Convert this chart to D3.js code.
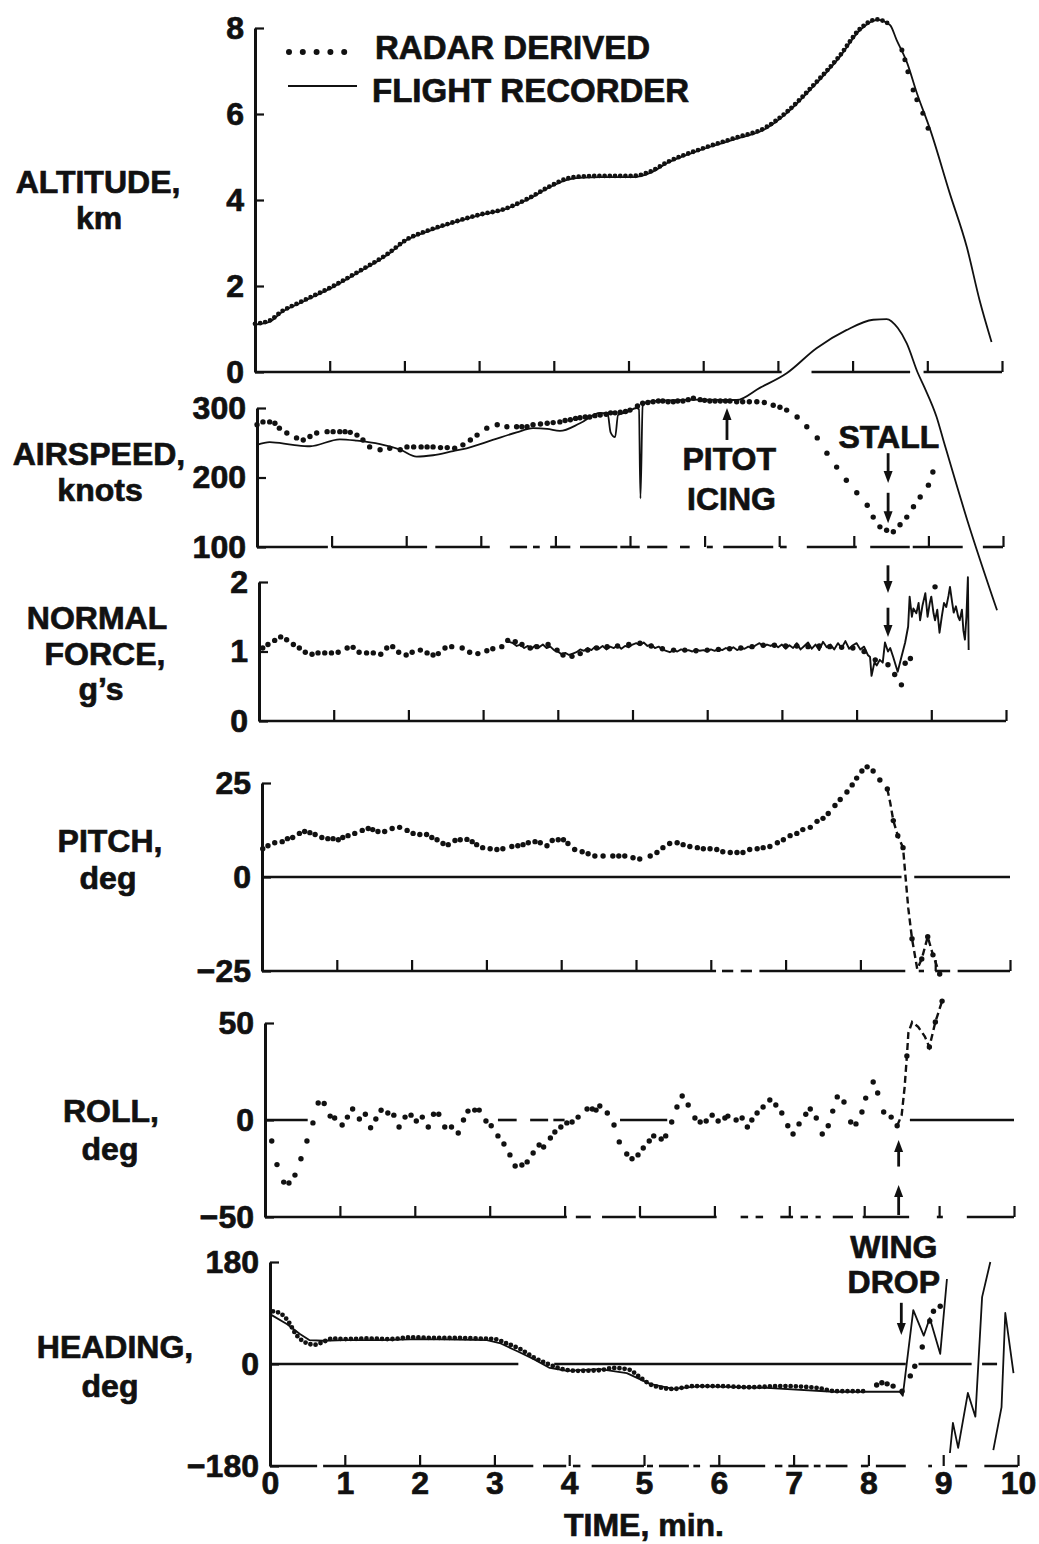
<!DOCTYPE html>
<html>
<head>
<meta charset="utf-8">
<script src="https://cdn.jsdelivr.net/npm/d3@7"></script>
<style>
  body { margin: 0; background: #fff; }
  svg { display: block; }
  text { font-family: "Liberation Sans", Arial, Helvetica, sans-serif; font-weight: bold; fill: #111; stroke: #111; stroke-width: 0.7px; }
</style>
</head>
<body>
<svg id="chart" width="1039" height="1544"></svg>
<script>
// ---- data (time in minutes) ----
const timeTicks = [0, 1, 2, 3, 4, 5, 6, 7, 8, 9, 10];
const altitudeTicks = [0, 2, 4, 6, 8];
const airspeedTicks = [100, 200, 300];
const normalTicks = [0, 1, 2];
const pitchTicks = [-25, 0, 25];
const rollTicks = [-50, 0, 50];
const headingTicks = [-180, 0, 180];

// altitude, km
const altitudeRecorder = [[0,1.1],[0.2,1.17],[0.35,1.38],[0.6,1.6],[1.05,1.98],[1.4,2.33],[1.77,2.72],[2.03,3.07],[2.3,3.26],[2.65,3.47],[3.01,3.65],[3.32,3.77],[3.64,4.0],[3.95,4.3],[4.18,4.47],[4.4,4.52],[4.62,4.53],[5.06,4.53],[5.29,4.63],[5.52,4.86],[5.96,5.16],[6.4,5.4],[6.85,5.67],[7.12,6.02],[7.47,6.63],[7.83,7.33],[8.1,7.95],[8.33,8.19],[8.5,8.07],[8.59,7.72],[8.73,7.19],[8.86,6.49],[9.04,5.63],[9.3,4.16],[9.53,2.9],[9.7,1.67],[9.86,0.7]];
const altitudeRadar = [[0,1.12],[0.2,1.2],[0.35,1.4],[0.6,1.62],[1.05,2.0],[1.4,2.35],[1.77,2.74],[2.03,3.08],[2.3,3.28],[2.65,3.48],[3.01,3.66],[3.32,3.78],[3.64,4.02],[3.95,4.32],[4.18,4.5],[4.4,4.55],[4.62,4.56],[5.06,4.56],[5.29,4.66],[5.52,4.88],[5.96,5.18],[6.4,5.43],[6.85,5.7],[7.12,6.05],[7.47,6.66],[7.83,7.36],[8.1,7.98],[8.33,8.2],[8.5,8.08]];
const altitudeRadarTail = [[8.66,7.49],[8.7,7.26],[8.74,6.98],[8.81,6.56],[8.86,6.33],[8.94,6.02],[9.01,5.67]];

// airspeed, knots
const airspeedRecorder = [[0,247],[0.17,251],[0.48,247],[0.71,245],[1.11,255],[1.34,253],[1.65,248],[1.92,240],[2.14,230],[2.36,232],[2.63,238],[2.81,242],[3.16,254],[3.48,265],[3.7,271],[3.89,270],[4.06,267],[4.33,278],[4.6,293],[4.7,292],[4.74,265],[4.8,258],[4.84,290],[4.96,294],[5.09,300],[5.12,298],[5.14,170],[5.17,303],[5.24,309],[5.5,311],[6.0,312],[6.43,311.5],[6.74,329],[7.1,350],[7.5,386],[7.9,412],[8.26,427],[8.44,428],[8.59,415],[8.71,393],[8.86,350],[8.95,329],[9.11,287],[9.2,254],[9.52,139],[9.92,9]];
const airspeedRadar = [[0,276],[0.08,280],[0.17,280],[0.24,278],[0.3,271],[0.4,264],[0.53,257],[0.62,254],[0.71,259],[0.8,264],[0.94,266],[1.02,266],[1.11,266],[1.18,266],[1.25,265],[1.34,261],[1.42,254],[1.51,244],[1.65,240],[1.78,242],[1.92,240],[2.01,244],[2.1,244],[2.2,244],[2.28,244],[2.36,244],[2.46,243],[2.55,243],[2.65,242],[2.76,247],[2.86,254],[2.95,261],[3.08,271],[3.22,276],[3.35,273],[3.48,273],[3.55,273],[3.62,273],[3.7,276],[3.8,277],[3.89,278],[3.97,279],[4.06,280],[4.13,282],[4.2,283],[4.27,285],[4.33,286],[4.4,287],[4.46,287],[4.53,289],[4.6,290],[4.68,291],[4.74,293],[4.8,293],[4.87,294],[4.94,295],[5.0,297],[5.1,303],[5.17,307],[5.24,308],[5.31,309],[5.38,310],[5.44,310],[5.51,309],[5.58,309],[5.64,310],[5.71,310],[5.78,312],[5.85,314],[5.94,312],[6.0,311],[6.07,310],[6.14,310],[6.21,310],[6.28,310],[6.34,310],[6.43,309],[6.51,309],[6.6,309],[6.7,309],[6.8,308],[6.92,304],[7.01,301],[7.1,297],[7.24,287],[7.37,273],[7.51,257],[7.64,235],[7.77,215],[7.9,196],[8.04,178],[8.18,160],[8.26,143],[8.35,129],[8.44,124],[8.53,122],[8.62,132],[8.71,143],[8.8,158],[8.89,172],[9.0,189],[9.06,208]];

// normal force, g
const normalRecorderStart = 3.35;
const normalRecorderStep = 0.05;
const normalRecorderNoise = [1.14,1.12,1.08,1.10,1.05,1.08,1.04,1.09,1.06,1.10,1.05,1.07,1.02,1.00,0.96,0.98,0.95,0.97,0.99,1.03,1.01,1.05,1.02,1.07,1.04,1.08,1.03,1.07,1.05,1.09,1.04,1.08,1.06,1.10,1.12,1.09,1.13,1.08,1.10,1.05,1.07,1.03,1.01,0.99,1.02,1.00,1.03,1.01,1.02,1.00,1.03,1.01,1.02,1.00,1.03,1.01,1.04,1.02,1.05,1.03,1.06,1.02,1.05,1.04,1.07,1.05,1.09,1.12,1.07,1.10,1.08,1.11,1.06,1.10,1.04,1.09,1.05,1.12,1.03,1.08,1.13,1.04,1.10,1.02,1.14,1.06,1.10,1.03,1.12,1.05,1.15,1.04,1.09,1.12,1.03,1.07,0.95];
const normalRecorderTail = [[8.18,0.92],[8.2,0.65],[8.24,0.85],[8.27,0.8],[8.31,0.88],[8.35,0.84],[8.38,1.13],[8.42,1.0],[8.45,1.05],[8.49,0.92],[8.55,0.71],[8.6,0.92],[8.65,1.13],[8.69,1.36],[8.71,1.79],[8.74,1.5],[8.76,1.62],[8.8,1.55],[8.83,1.7],[8.85,1.45],[8.88,1.65],[8.92,1.84],[8.95,1.5],[8.98,1.7],[9.0,1.79],[9.03,1.55],[9.05,1.45],[9.08,1.6],[9.11,1.27],[9.14,1.5],[9.17,1.7],[9.2,1.64],[9.23,1.8],[9.25,1.93],[9.28,1.7],[9.3,1.56],[9.33,1.65],[9.36,1.5],[9.38,1.45],[9.41,1.6],[9.43,1.3],[9.45,1.17],[9.47,1.5],[9.49,2.07],[9.5,1.02]];
const normalRadar = [[0.05,1.05],[0.12,1.1],[0.21,1.16],[0.29,1.21],[0.37,1.17],[0.46,1.1],[0.54,1.05],[0.62,0.99],[0.71,0.96],[0.79,0.98],[0.88,0.98],[0.97,0.98],[1.06,0.99],[1.18,1.05],[1.26,1.06],[1.34,0.99],[1.44,0.98],[1.53,0.98],[1.63,0.96],[1.71,1.05],[1.79,1.07],[1.87,0.99],[1.97,0.95],[2.05,0.99],[2.16,1.02],[2.25,0.98],[2.33,0.95],[2.4,0.97],[2.49,1.05],[2.58,1.07],[2.72,1.05],[2.82,0.99],[2.93,0.97],[3.05,1.01],[3.13,1.04],[3.25,1.07],[3.33,1.16],[3.43,1.14],[3.52,1.1],[3.63,1.05],[3.72,1.07],[3.87,1.1],[3.99,1.02],[4.07,0.95],[4.19,0.93],[4.3,0.97],[4.4,1.02],[4.52,1.05],[4.66,1.07],[4.8,1.08],[4.95,1.1],[5.1,1.12],[5.25,1.08],[5.4,1.04],[5.55,1.02],[5.7,1.02],[5.85,1.01],[6.0,1.02],[6.15,1.03],[6.3,1.04],[6.45,1.05],[6.6,1.07],[6.75,1.09],[6.9,1.09],[7.05,1.08],[7.2,1.08],[7.35,1.07],[7.5,1.08],[7.64,1.07],[7.8,1.06],[7.95,1.05],[8.1,1.0],[8.25,0.88],[8.42,0.81],[8.51,0.67],[8.6,0.52],[8.65,0.83],[8.72,0.9],[9.05,1.93]];

// pitch, deg
const pitchRadar = [[0.01,7.5],[0.08,8.3],[0.17,9.1],[0.27,9.4],[0.34,10.2],[0.41,10.5],[0.5,11.6],[0.57,12.1],[0.64,11.8],[0.71,11.3],[0.8,10.5],[0.88,10.2],[0.95,10.2],[1.02,9.9],[1.08,10.5],[1.15,11],[1.24,11.6],[1.34,12.4],[1.42,12.9],[1.48,12.6],[1.55,12.1],[1.64,12.1],[1.74,12.9],[1.84,13.2],[1.94,12.4],[2.02,11.6],[2.11,11.3],[2.2,11.3],[2.27,10.5],[2.34,9.9],[2.42,8.9],[2.49,8.6],[2.58,9.7],[2.65,9.9],[2.74,10],[2.81,9.4],[2.87,8.6],[2.95,7.8],[3.05,7.5],[3.14,7.3],[3.22,7.5],[3.34,8.1],[3.42,8.3],[3.49,8.6],[3.56,9.1],[3.65,9.4],[3.72,9.1],[3.81,8.3],[3.88,9.7],[3.96,9.9],[4.03,9.9],[4.09,8.9],[4.18,7.3],[4.28,6.7],[4.36,6.2],[4.45,5.6],[4.56,5.6],[4.69,5.6],[4.77,5.6],[4.85,5.6],[4.96,5.1],[5.05,4.8],[5.19,5.6],[5.28,6.5],[5.36,7.8],[5.45,8.9],[5.55,9.1],[5.63,8.6],[5.72,8.1],[5.82,7.8],[5.9,7.5],[5.99,7.5],[6.08,7.3],[6.16,6.7],[6.26,6.5],[6.35,6.5],[6.43,6.5],[6.52,7.3],[6.62,7.5],[6.7,7.8],[6.79,8.1],[6.89,9.1],[6.97,9.9],[7.06,11],[7.15,11.6],[7.23,12.6],[7.33,13.2],[7.42,14.8],[7.5,15.6],[7.57,16.9],[7.66,19],[7.73,20.6],[7.82,22.6],[7.89,24.5],[7.95,26.3],[8.02,28.2],[8.09,29.3],[8.17,28.2],[8.26,25.8],[8.36,23.4],[8.44,15],[8.5,11],[8.57,7.8],[8.69,-16.4],[8.82,-21.8],[8.9,-15.9],[8.97,-20.7],[9.06,-25.8]];
const pitchDashed = [[8.36,23.4],[8.4,19.6],[8.44,15],[8.5,11],[8.57,7.8],[8.6,0.8],[8.64,-8.3],[8.69,-16.4],[8.76,-24.5],[8.82,-21.8],[8.9,-15.9],[8.97,-20.7],[9.06,-25.8]];

// roll, deg
const rollRadar = [[0.09,-10.8],[0.16,-23],[0.25,-32],[0.32,-32.5],[0.4,-28.4],[0.48,-20],[0.56,-10.8],[0.64,-1.5],[0.71,8.8],[0.79,8.5],[0.87,2],[0.93,1],[1.03,-2.6],[1.1,1.5],[1.17,5.7],[1.26,0.5],[1.34,3],[1.41,-4],[1.48,0.5],[1.55,5],[1.64,3.6],[1.72,2.5],[1.79,-3.6],[1.87,1.5],[1.95,2.5],[2.02,-0.5],[2.1,1.5],[2.18,-3.6],[2.25,3],[2.32,3],[2.4,-3.6],[2.49,-3.6],[2.58,-6.7],[2.65,0],[2.71,4.6],[2.8,5.1],[2.86,5.1],[2.95,-0.5],[3.02,-3],[3.11,-8.2],[3.19,-12.4],[3.27,-18],[3.34,-23.7],[3.43,-23.2],[3.5,-21.6],[3.58,-17],[3.66,-12.9],[3.72,-13.9],[3.81,-9.3],[3.87,-6.2],[3.95,-3.6],[4.03,-1.5],[4.1,-1],[4.18,1.5],[4.3,5.7],[4.37,5.7],[4.42,5.1],[4.47,7.2],[4.57,3.6],[4.66,-2.6],[4.73,-11.3],[4.83,-17.5],[4.9,-20],[4.98,-18],[5.05,-14.4],[5.13,-10.8],[5.19,-8.2],[5.29,-9.8],[5.35,-8.2],[5.43,-1],[5.5,6.7],[5.57,12.4],[5.65,7.7],[5.74,1],[5.81,-1],[5.89,-0.5],[5.97,2.5],[6.05,-0.5],[6.14,1],[6.18,2],[6.29,0],[6.37,1],[6.44,-3.6],[6.5,0],[6.57,3.6],[6.65,6.7],[6.74,10.3],[6.82,7.7],[6.9,3.6],[6.98,-3],[7.05,-7.2],[7.13,-2],[7.22,3],[7.28,5.7],[7.36,1],[7.44,-7.2],[7.52,-3],[7.58,4.6],[7.64,11.9],[7.73,9.3],[7.82,-1],[7.89,-2],[7.97,4.1],[8.02,11.3],[8.12,19.6],[8.18,13.9],[8.26,4.1],[8.36,1.5],[8.44,-3],[8.57,33],[8.87,37.6],[8.95,50.5],[9.04,61.3]];
const rollDashed = [[8.44,-3],[8.5,2.5],[8.54,17],[8.57,33],[8.59,45],[8.64,50.5],[8.72,48],[8.81,43],[8.87,37.6],[8.95,50.5],[9.04,61.3]];

// heading, deg (recorder wraps at +/-180, so three pieces)
const headingRecorder = [[0,88],[0.23,70],[0.4,53],[0.53,42],[0.71,41],[1.0,42],[1.5,42],[2.0,44],[2.5,43],[2.9,42],[3.07,37],[3.3,23],[3.52,9],[3.74,-7],[3.97,-12],[4.41,-9],[4.77,-16],[5.08,-35],[5.39,-44],[5.75,-39],[6.64,-42],[7.53,-49],[8.42,-49],[8.46,-56],[8.6,95],[8.74,50],[8.82,81],[8.96,18],[9.05,150]];
const headingRecorderWrap1 = [[9.09,-157],[9.13,-104],[9.2,-148],[9.33,-51],[9.43,-93],[9.52,118],[9.63,180]];
const headingRecorderWrap2 = [[9.67,-152],[9.78,-76],[9.83,90],[9.94,-16]];
const headingRadar = [[0.04,93],[0.13,90],[0.23,78],[0.36,50],[0.49,37],[0.6,34],[0.71,39],[0.84,45],[1.0,44],[1.3,45],[1.6,44],[1.9,47],[2.2,46],[2.5,46],[2.8,45],[3.0,44],[3.17,36],[3.35,26],[3.52,12],[3.7,1],[3.88,-8],[4.1,-12],[4.4,-11],[4.6,-7],[4.8,-10],[4.95,-24],[5.12,-38],[5.39,-44],[5.66,-39],[6.0,-39],[6.4,-41],[6.86,-39],[7.3,-42],[7.58,-48],[7.93,-48]];
const headingRadarTail = [[8.11,-37],[8.18,-33],[8.25,-35],[8.33,-39],[8.45,-48],[8.56,-21],[8.62,-4],[8.72,30],[8.82,76],[8.87,93],[8.96,102]];

// broken baselines / zero lines of the original trace, [from, to] in minutes
const altitudeAxisSegments = [[0,7.05],[7.45,8.77],[8.95,10]];
const airspeedAxisSegments = [[0,0.95],[1.0,2.28],[2.39,3.12],[3.39,3.62],[3.7,3.79],[3.93,4.2],[4.33,4.83],[4.87,5.13],[5.23,5.5],[5.67,5.8],[6.03,6.11],[6.25,6.92],[7.01,7.1],[7.37,8.04],[8.22,8.75],[8.79,9.46],[9.73,10]];
const normalAxisSegments = [[0,10]];
const pitchAxisSegments = [[0,6.07],[6.15,6.3],[6.4,6.55],[6.65,8.6],[8.78,8.85],[9.0,9.2],[9.3,10]];
const rollAxisSegments = [[0,4.03],[4.15,4.35],[4.5,4.95],[5.0,6.03],[6.35,6.45],[6.55,6.65],[6.88,7.05],[7.15,7.25],[7.35,7.42],[7.58,7.85],[7.98,8.6],[8.97,9.05],[9.37,10]];
const headingAxisSegments = [[0,0.63],[0.71,3.52],[3.65,3.96],[4.05,4.15],[4.3,5.0],[5.04,5.12],[5.2,5.6],[5.66,5.75],[5.88,6.62],[6.75,6.85],[6.93,7.2],[7.27,7.36],[7.43,7.72],[7.9,8.0],[8.1,8.5],[8.8,8.85],[9.16,9.32],[9.55,10]];
const pitchZeroSegments = [[0,8.55],[8.72,10]];
const rollZeroSegments = [[0,0.57],[3.11,3.36],[3.54,3.78],[3.85,4.0],[4.74,5.37],[8.61,10]];
const headingZeroSegments = [[0,3.32],[3.8,8.5],[8.67,9.38],[9.52,9.72]];

// ---- layout ----
const ink = "#111";
const svg = d3.select("#chart");

const panels = [
  { name: "altitude", xRange: [255, 1002], yRange: [372, 28], domain: [0, 8], ticks: altitudeTicks,
    axisSegments: altitudeAxisSegments,
    label: [["ALTITUDE,", 98, 193], ["km", 99, 229]] },
  { name: "airspeed", xRange: [257, 1003], yRange: [547, 408], domain: [100, 300], ticks: airspeedTicks,
    axisSegments: airspeedAxisSegments,
    label: [["AIRSPEED,", 99, 465], ["knots", 100, 501]] },
  { name: "normal", xRange: [259, 1006], yRange: [721, 582], domain: [0, 2], ticks: normalTicks,
    axisSegments: normalAxisSegments,
    label: [["NORMAL", 97, 629], ["FORCE,", 105, 665], ["g\u2019s", 101, 700]] },
  { name: "pitch", xRange: [262, 1010], yRange: [971, 783], domain: [-25, 25], ticks: pitchTicks,
    axisSegments: pitchAxisSegments, zeroSegments: pitchZeroSegments,
    label: [["PITCH,", 110, 852], ["deg", 108, 889]] },
  { name: "roll", xRange: [265, 1014], yRange: [1217, 1023], domain: [-50, 50], ticks: rollTicks,
    axisSegments: rollAxisSegments, zeroSegments: rollZeroSegments,
    label: [["ROLL,", 111, 1122], ["deg", 110, 1160]] },
  { name: "heading", xRange: [270, 1018], yRange: [1466, 1262], domain: [-180, 180], ticks: headingTicks,
    axisSegments: headingAxisSegments, zeroSegments: headingZeroSegments, last: true,
    label: [["HEADING,", 115, 1358], ["deg", 110, 1397]] }
];

// ---- helpers ----
function solidLine(g, data, x, y, curve, width) {
  g.append("path").datum(data)
    .attr("fill", "none").attr("stroke", ink).attr("stroke-width", width || 1.8)
    .attr("stroke-linejoin", "round")
    .attr("d", d3.line().x(d => x(d[0])).y(d => y(d[1])).curve(curve || d3.curveMonotoneX));
}
function dashedLine(g, data, x, y) {
  g.append("path").datum(data)
    .attr("fill", "none").attr("stroke", ink).attr("stroke-width", 2.4)
    .attr("stroke-dasharray", "7,4")
    .attr("d", d3.line().x(d => x(d[0])).y(d => y(d[1])));
}
function dottedLine(g, data, x, y) {
  g.append("path").datum(data)
    .attr("fill", "none").attr("stroke", ink).attr("stroke-width", 4.8)
    .attr("stroke-linecap", "round").attr("stroke-dasharray", "0,5.2")
    .attr("d", d3.line().x(d => x(d[0])).y(d => y(d[1])).curve(d3.curveMonotoneX));
}
function dots(g, data, x, y, r) {
  g.append("g").selectAll("circle").data(data).join("circle")
    .attr("cx", d => x(d[0])).attr("cy", d => y(d[1])).attr("r", r || 2.7).attr("fill", ink);
}
function arrow(g, px, yFrom, yTo) {
  const dir = yTo > yFrom ? 1 : -1;
  g.append("line").attr("x1", px).attr("x2", px).attr("y1", yFrom).attr("y2", yTo - dir * 8)
    .attr("stroke", ink).attr("stroke-width", 2.8);
  g.append("path")
    .attr("d", `M${px - 4.5},${yTo - dir * 12}L${px + 4.5},${yTo - dir * 12}L${px},${yTo}Z`)
    .attr("fill", ink);
}
function label(g, txt, px, py, size) {
  g.append("text").attr("x", px).attr("y", py).attr("text-anchor", "middle")
    .attr("font-size", size || 32).text(txt);
}
function styleTicks(sel) {
  sel.selectAll(".tick line").attr("stroke", ink).attr("stroke-width", 2.2);
  sel.selectAll(".tick text").attr("font-size", 32).attr("fill", ink)
    .style("font-family", "'Liberation Sans', Arial, sans-serif").style("font-weight", "bold")
    .style("stroke", ink).style("stroke-width", "0.7px");
}

const scales = {};

panels.forEach(cfg => {
  const x = d3.scaleLinear().domain([0, 10]).range(cfg.xRange);
  const y = d3.scaleLinear().domain(cfg.domain).range(cfg.yRange);
  scales[cfg.name] = { x, y };
  const g = svg.append("g").attr("class", "panel " + cfg.name);
  const base = y(cfg.domain[0]);

  // bottom axis: upward ticks, broken baseline
  const bottom = g.append("g").attr("transform", `translate(0,${base})`)
    .call(d3.axisBottom(x)
      .tickValues(cfg.last ? timeTicks : timeTicks.slice(1))
      .tickSizeInner(-11).tickSizeOuter(0).tickPadding(5)
      .tickFormat(cfg.last ? d3.format("d") : () => ""));
  bottom.select(".domain").remove();
  styleTicks(bottom);

  g.append("g").selectAll("line").data(cfg.axisSegments).join("line")
    .attr("x1", d => x(d[0])).attr("x2", d => x(d[1]))
    .attr("y1", base).attr("y2", base)
    .attr("stroke", ink).attr("stroke-width", 2.6);

  if (cfg.zeroSegments) {
    g.append("g").selectAll("line").data(cfg.zeroSegments).join("line")
      .attr("x1", d => x(d[0])).attr("x2", d => x(d[1]))
      .attr("y1", y(0)).attr("y2", y(0))
      .attr("stroke", ink).attr("stroke-width", 2.6);
  }

  // left axis: inward ticks
  const left = g.append("g").attr("transform", `translate(${cfg.xRange[0]},0)`)
    .call(d3.axisLeft(y).tickValues(cfg.ticks)
      .tickSizeInner(-9).tickSizeOuter(0).tickPadding(11)
      .tickFormat(d3.format("d")));
  left.select(".domain").attr("stroke", ink).attr("stroke-width", 3);
  styleTicks(left);

  cfg.label.forEach(l => label(g, l[0], l[1], l[2]));
  cfg.g = g;
});

// ---- series ----
let s, g;

g = panels[0].g; s = scales.altitude;
solidLine(g, altitudeRecorder, s.x, s.y, d3.curveMonotoneX, 1.8);
dottedLine(g, altitudeRadar, s.x, s.y);
dots(g, altitudeRadarTail, s.x, s.y, 2.5);

g = panels[1].g; s = scales.airspeed;
solidLine(g, airspeedRecorder, s.x, s.y, d3.curveMonotoneX, 1.8);
dots(g, airspeedRadar, s.x, s.y);
label(g, "PITOT", s.x(6.33), s.y(210.8));
label(g, "ICING", s.x(6.36), s.y(153.2));
arrow(g, s.x(6.3), s.y(254), s.y(300));
label(g, "STALL", s.x(8.47), s.y(242.4));
arrow(g, s.x(8.46), s.y(235), s.y(192));
arrow(g, s.x(8.46), s.y(178), s.y(134));

g = panels[2].g; s = scales.normal;
const normalRecorder = normalRecorderNoise.map((v, i) => [normalRecorderStart + i * normalRecorderStep, v])
  .concat(normalRecorderTail);
solidLine(g, normalRecorder, s.x, s.y, d3.curveLinear, 1.9);
dots(g, normalRadar, s.x, s.y);
arrow(g, s.x(8.42), s.y(2.24), s.y(1.84));
arrow(g, s.x(8.42), s.y(1.63), s.y(1.21));

g = panels[3].g; s = scales.pitch;
dashedLine(g, pitchDashed, s.x, s.y);
dots(g, pitchRadar, s.x, s.y);

g = panels[4].g; s = scales.roll;
dashedLine(g, rollDashed, s.x, s.y);
dots(g, rollRadar, s.x, s.y);
arrow(g, s.x(8.46), s.y(-24), s.y(-10.3));
arrow(g, s.x(8.46), s.y(-49), s.y(-33.5));

g = panels[5].g; s = scales.heading;
solidLine(g, headingRecorder, s.x, s.y, d3.curveLinear, 1.8);
solidLine(g, headingRecorderWrap1, s.x, s.y, d3.curveLinear, 1.8);
solidLine(g, headingRecorderWrap2, s.x, s.y, d3.curveLinear, 1.8);
dottedLine(g, headingRadar, s.x, s.y);
dots(g, headingRadarTail, s.x, s.y);
label(g, "WING", s.x(8.34), s.y(187));
label(g, "DROP", s.x(8.34), s.y(125));
arrow(g, s.x(8.44), s.y(108), s.y(51));
label(g, "TIME, min.", s.x(5.0), 1536);

// ---- legend ----
const legend = svg.append("g").attr("class", "legend");
legend.append("line").attr("x1", 289).attr("x2", 358).attr("y1", 52).attr("y2", 52)
  .attr("stroke", ink).attr("stroke-width", 6).attr("stroke-linecap", "round")
  .attr("stroke-dasharray", "0,13.8");
legend.append("text").attr("x", 375).attr("y", 59).attr("font-size", 33).text("RADAR DERIVED");
legend.append("line").attr("x1", 288).attr("x2", 357).attr("y1", 86).attr("y2", 86)
  .attr("stroke", ink).attr("stroke-width", 2);
legend.append("text").attr("x", 372).attr("y", 102).attr("font-size", 33).text("FLIGHT RECORDER");
</script>
</body>
</html>
